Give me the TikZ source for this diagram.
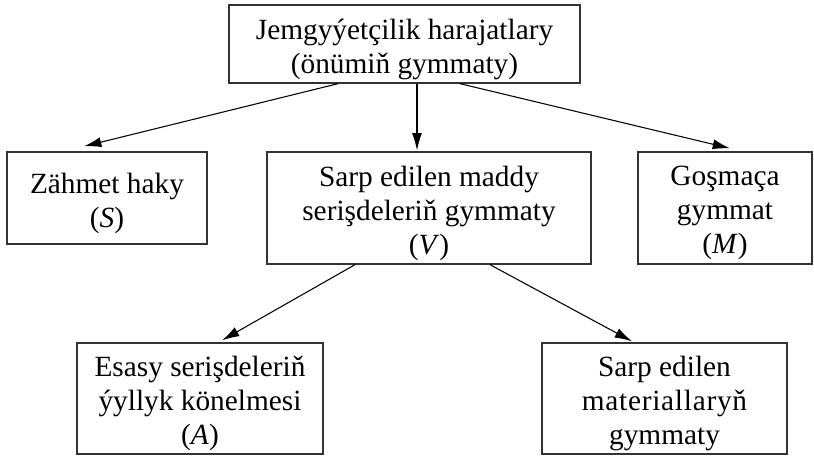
\documentclass[tikz,border=0pt]{standalone}
\usepackage{fontspec}
\setmainfont{Liberation Serif}
\usetikzlibrary{arrows.meta,calc}
\begin{document}
\begin{tikzpicture}[x=0.75pt,y=-0.75pt,
  box/.style={draw=black!80, line width=1pt, inner sep=0pt},
  txt/.style={align=center, inner sep=0pt, yshift=-4pt,
    font=\fontsize{22}{25.5}\selectfont},
  arr/.style={draw=black, line width=0.8pt, -{Latex[length=13pt,width=7.5pt]}}]
\useasboundingbox (0,0) rectangle (814,455);
\node[box, minimum width=263.25pt, minimum height=58.5pt,
  label={[txt]center:{Jemgyýetçilik harajatlary\\(önümiň gymmaty)}}] (top) at (404.5,44) {};
\node[box, minimum width=150pt, minimum height=69pt,
  label={[txt]center:{Zähmet haky\\(\emph{S})}}] (zah) at (107,198) {};
\node[box, minimum width=243pt, minimum height=84pt,
  label={[txt]center:{Sarp edilen maddy\\serişdeleriň gymmaty\\(\emph{V})}}] (mid) at (429,208) {};
\node[box, minimum width=130.5pt, minimum height=84pt,
  label={[txt]center:{Goşmaça\\gymmat\\(\emph{M})}}] (gos) at (725,208) {};
\node[box, minimum width=184.5pt, minimum height=83.25pt,
  label={[txt]center:{Esasy serişdeleriň\\ýyllyk könelmesi\\(\emph{A})}}] (esa) at (200,398.5) {};
\node[box, minimum width=183.75pt, minimum height=83.25pt,
  label={[txt]center:{Sarp edilen\\{\addfontfeature{LetterSpace=2.5}materiallaryň}\\gymmaty}}] (mat) at (664.5,398.5) {};
\draw[arr] ($(top.south)+(-66.5,0)$) -- ($(zah.north)+(-23,-5)$);
\draw[arr] ($(top.south)+(12.5,0)$) -- ($(mid.north)+(-12,-1)$);
\draw[arr] ($(top.south)+(55.5,0)$) -- ($(gos.north)+(5,-3)$);
\draw[arr] ($(mid.south)+(-74,0)$) -- ($(esa.north)+(22,-2)$);
\draw[arr] ($(mid.south)+(61,0)$) -- ($(mat.north)+(-32.5,-1)$);
\end{tikzpicture}
\end{document}
